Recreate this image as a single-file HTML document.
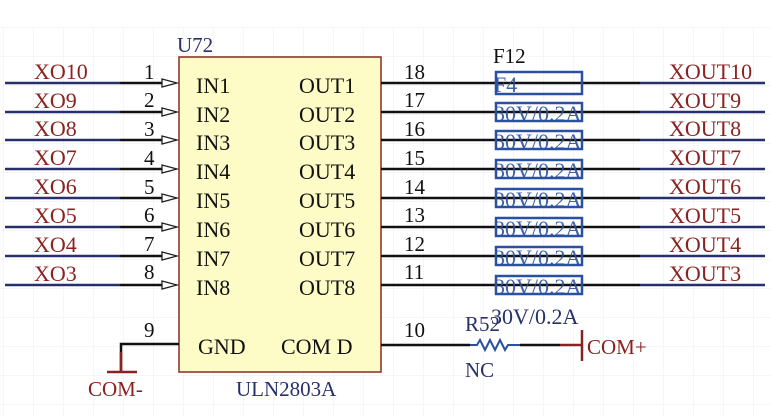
<!DOCTYPE html>
<html><head><meta charset="utf-8"><style>
html,body{margin:0;padding:0;background:#fff;width:771px;height:416px;overflow:hidden}
svg{display:block}
text{font-family:"Liberation Serif",serif}
</style></head><body>
<svg width="771" height="416" viewBox="0 0 771 416" xmlns="http://www.w3.org/2000/svg">
<defs>
<pattern id="g" x="3" y="27" width="30" height="29" patternUnits="userSpaceOnUse">
<path d="M0 0V29M0 0H30" stroke="#ececec" stroke-width="1" fill="none"/>
</pattern>
</defs>
<rect x="0" y="27" width="771" height="389" fill="url(#g)"/>
<rect x="179" y="57" width="202" height="315" fill="#fefcc6" stroke="#8b2b1f" stroke-width="1.5"/>
<text x="177" y="52" font-size="21" fill="#27306b">U72</text>
<text x="236" y="396" font-size="21" fill="#27306b">ULN2803A</text>
<g font-size="22" fill="#111">
<text x="196" y="93">IN1</text><text x="299" y="93">OUT1</text>
<text x="196" y="122">IN2</text><text x="299" y="122">OUT2</text>
<text x="196" y="150">IN3</text><text x="299" y="150">OUT3</text>
<text x="196" y="179">IN4</text><text x="299" y="179">OUT4</text>
<text x="196" y="208">IN5</text><text x="299" y="208">OUT5</text>
<text x="196" y="237">IN6</text><text x="299" y="237">OUT6</text>
<text x="196" y="266">IN7</text><text x="299" y="266">OUT7</text>
<text x="196" y="295">IN8</text><text x="299" y="295">OUT8</text>
<text x="198" y="354">GND</text><text x="281" y="354">COM D</text>
</g>
<g stroke-width="2.5" fill="none">
<path stroke="#27306b" d="M5 83H120M5 112H120M5 140H120M5 169H120M5 198H120M5 227H120M5 256H120M5 285H120"/>
<path stroke="#111" d="M120 83H162M120 112H162M120 140H162M120 169H162M120 198H162M120 227H162M120 256H162M120 285H162"/>
</g>
<g stroke="#222" stroke-width="1.3" fill="#fff">
<path d="M162 79L177 83L162 87Z"/><path d="M162 108L177 112L162 116Z"/><path d="M162 136L177 140L162 144Z"/><path d="M162 165L177 169L162 173Z"/>
<path d="M162 194L177 198L162 202Z"/><path d="M162 223L177 227L162 231Z"/><path d="M162 252L177 256L162 260Z"/><path d="M162 281L177 285L162 289Z"/>
</g>
<g font-size="22" fill="#8b2222">
<text x="34" y="79">XO10</text><text x="34" y="108">XO9</text><text x="34" y="136">XO8</text><text x="34" y="165">XO7</text>
<text x="34" y="194">XO6</text><text x="34" y="223">XO5</text><text x="34" y="252">XO4</text><text x="34" y="281">XO3</text>
</g>
<g font-size="21" fill="#111">
<text x="144" y="79">1</text><text x="144" y="107">2</text><text x="144" y="136">3</text><text x="144" y="165">4</text>
<text x="144" y="194">5</text><text x="144" y="222">6</text><text x="144" y="251">7</text><text x="144" y="279">8</text>
<text x="144" y="337">9</text>
<text x="404" y="79">18</text><text x="404" y="107">17</text><text x="404" y="136">16</text><text x="404" y="165">15</text>
<text x="404" y="194">14</text><text x="404" y="222">13</text><text x="404" y="251">12</text><text x="404" y="279">11</text>
<text x="404" y="337">10</text>
</g>
<g stroke-width="2.5" fill="none">
<path stroke="#111" d="M381 83H640M381 112H640M381 140H640M381 169H640M381 198H640M381 227H640M381 256H640M381 285H640"/>
<path stroke="#27306b" d="M640 83H765M640 112H765M640 140H765M640 169H765M640 198H765M640 227H765M640 256H765M640 285H765"/>
</g>
<g font-size="22" fill="#8b2222">
<text x="669" y="79">XOUT10</text><text x="669" y="108">XOUT9</text><text x="669" y="136">XOUT8</text><text x="669" y="165">XOUT7</text>
<text x="669" y="194">XOUT6</text><text x="669" y="223">XOUT5</text><text x="669" y="252">XOUT4</text><text x="669" y="281">XOUT3</text>
</g>
<text x="493" y="63" font-size="21" fill="#111">F12</text>
<g stroke="#2a50a0" stroke-width="2.5" fill="none">
<rect x="496" y="72" width="86" height="22"/>
<rect x="496" y="103" width="86" height="18"/><rect x="496" y="131" width="86" height="18"/><rect x="496" y="160" width="86" height="18"/>
<rect x="496" y="189" width="86" height="18"/><rect x="496" y="218" width="86" height="18"/><rect x="496" y="247" width="86" height="18"/><rect x="496" y="276" width="86" height="18"/>
</g>
<g font-size="22" fill="#2a50a0" opacity="0.9">
<text x="494" y="92">F4</text>
<text x="494" y="121">30V/0.2A</text><text x="494" y="149">30V/0.2A</text><text x="494" y="178">30V/0.2A</text><text x="494" y="207">30V/0.2A</text>
<text x="494" y="236">30V/0.2A</text><text x="494" y="265">30V/0.2A</text><text x="494" y="294">30V/0.2A</text>
</g>
<text x="491" y="324" font-size="22" fill="#27306b">30V/0.2A</text>
<path d="M179 344H121V372" stroke="#111" stroke-width="2.5" fill="none"/>
<path d="M121 352V372M107 372H137" stroke="#8b2222" stroke-width="2.5" fill="none"/>
<text x="88" y="396" font-size="21" fill="#8b2222">COM-</text>
<path d="M381 345H470M520 345H560" stroke="#111" stroke-width="2.5" fill="none"/>
<path d="M470 345H477L480 340L485 350L490 340L495 350L500 340L505 350L508 345H520" stroke="#2a50a0" stroke-width="2" fill="none"/>
<path d="M560 345H582M582 330V361" stroke="#8b2222" stroke-width="2.5" fill="none"/>
<text x="587" y="354" font-size="21" fill="#8b2222">COM+</text>
<text x="465" y="331" font-size="21" fill="#27306b">R52</text>
<text x="465" y="377" font-size="21" fill="#27306b">NC</text>
</svg>
</body></html>
